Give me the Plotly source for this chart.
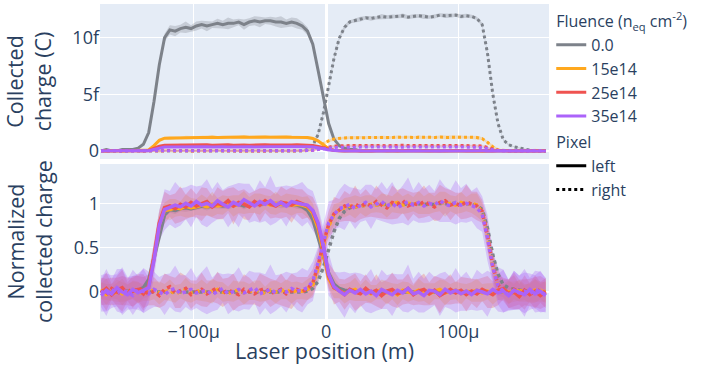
import plotly.graph_objects as go
from plotly.subplots import make_subplots

# Laser position grid (micrometres)
x_um = list(range(-170, 167, 4))

# ---- Normalized collected charge ----
gray_left = [0.00, 0.01, 0.00, 0.00, 0.01, 0.01, 0.01, 0.02, 0.05, 0.14,
             0.38, 0.66, 0.87, 0.93, 0.92, 0.94, 0.95, 0.94, 0.96, 0.97,
             0.96, 0.97, 0.98, 0.97, 0.98, 0.98, 0.99, 0.97, 0.99, 1.00,
             0.99, 1.00, 1.00, 0.99, 0.99, 0.98, 0.99, 0.98, 0.96, 0.92,
             0.82, 0.62, 0.40, 0.21, 0.09, 0.04, 0.02, 0.01, 0.01, 0.00,
             0.00, 0.00, 0.00, 0.00, 0.00, 0.00, 0.00, 0.00, 0.00, 0.00,
             0.00, 0.00, 0.00, 0.00, 0.00, 0.00, 0.00, 0.00, 0.00, 0.00,
             0.00, 0.00, 0.00, 0.00, 0.00, 0.00, 0.00, 0.00, 0.00, 0.00,
             0.00, 0.00, 0.00, 0.00, 0.00]
gray_right = [0.00, 0.00, 0.00, 0.00, 0.00, 0.00, 0.00, 0.00, 0.00, 0.00,
              0.00, 0.00, 0.00, 0.00, 0.00, 0.00, 0.00, 0.00, 0.00, 0.00,
              0.00, 0.00, 0.00, 0.00, 0.00, 0.00, 0.00, 0.00, 0.00, 0.00,
              0.00, 0.00, 0.00, 0.00, 0.00, 0.00, 0.00, 0.00, 0.00, 0.01,
              0.04, 0.12, 0.28, 0.48, 0.68, 0.83, 0.91, 0.95, 0.96, 0.97,
              0.98, 0.975, 0.98, 0.99, 0.985, 0.99, 0.99, 0.995, 0.985, 0.99,
              0.995, 0.99, 0.985, 0.99, 1.00, 0.995, 0.995, 1.00, 0.99, 0.995,
              0.99, 0.975, 0.93, 0.72, 0.42, 0.20, 0.08, 0.045, 0.03, 0.02,
              0.01, 0.005, 0.00, 0.00, 0.00]
orange_left = [0.02, -0.03, 0.01, 0.03, -0.02, 0.00, 0.02, -0.01, 0.01, 0.06,
               0.38, 0.76, 0.92, 0.93, 0.95, 0.94, 0.97, 0.95, 0.96, 0.98,
               0.96, 0.99, 0.97, 0.98, 1.00, 0.97, 0.99, 1.01, 0.98, 1.00,
               0.99, 1.01, 0.98, 1.00, 0.99, 1.00, 0.98, 0.99, 0.98, 0.96,
               0.89, 0.72, 0.45, 0.15, 0.05, 0.01, -0.02, 0.01, 0.03, -0.01,
               0.02, -0.02, 0.00, 0.03, -0.01, 0.01, -0.03, 0.02, 0.00, -0.01,
               0.02, 0.00, -0.02, 0.01, 0.03, -0.01, 0.00, 0.02, -0.02, 0.01,
               0.00, 0.02, -0.01, 0.01, -0.02, 0.02, 0.00, -0.01, 0.02, 0.01,
               -0.02, 0.00, 0.02, -0.01, 0.01]
orange_right = [0.01, 0.03, -0.02, 0.00, 0.02, -0.01, 0.03, 0.00, -0.02, 0.01,
                0.02, -0.01, 0.00, 0.02, -0.02, 0.01, 0.03, -0.01, 0.00, 0.02,
                -0.01, 0.01, 0.03, 0.00, -0.02, 0.01, 0.02, -0.01, 0.00, 0.02,
                0.01, -0.02, 0.02, 0.00, 0.01, 0.03, -0.01, 0.02, 0.01, 0.03,
                0.08, 0.27, 0.52, 0.74, 0.87, 0.93, 0.95, 0.97, 0.96, 0.98,
                0.97, 0.99, 0.98, 1.00, 0.97, 0.99, 1.01, 0.98, 1.00, 0.99,
                1.01, 0.98, 1.00, 0.99, 1.02, 0.99, 1.00, 0.98, 1.01, 0.99,
                1.00, 0.98, 0.90, 0.63, 0.29, 0.07, 0.02, 0.00, -0.01, 0.02,
                0.00, -0.02, 0.01, 0.02, -0.01]
red_left = [-0.01, 0.04, -0.03, 0.02, 0.05, -0.02, 0.01, 0.03, -0.02, 0.07,
            0.40, 0.78, 0.95, 0.97, 0.94, 0.99, 0.96, 1.01, 0.97, 0.99,
            1.02, 0.96, 1.00, 0.98, 1.03, 0.97, 1.01, 0.99, 0.96, 1.02,
            0.98, 1.03, 0.99, 0.97, 1.01, 1.00, 0.98, 1.02, 0.99, 0.97,
            0.91, 0.76, 0.50, 0.18, 0.05, 0.02, -0.03, 0.03, 0.00, -0.02,
            0.04, -0.01, 0.02, -0.04, 0.01, 0.03, -0.02, 0.00, 0.04, -0.03,
            0.01, 0.03, -0.02, 0.02, -0.04, 0.00, 0.03, -0.01, 0.02, -0.03,
            0.01, -0.02, 0.03, 0.00, -0.03, 0.02, 0.04, -0.02, 0.00, -0.05,
            0.02, -0.03, 0.01, -0.04, 0.00]
red_right = [0.02, -0.03, 0.04, 0.00, -0.02, 0.03, -0.01, 0.05, 0.01, -0.02,
             0.01, -0.04, 0.03, 0.06, -0.01, 0.02, 0.04, -0.03, 0.00, 0.03,
             -0.02, 0.01, 0.05, -0.01, 0.02, 0.00, -0.03, 0.03, 0.01, -0.02,
             0.02, 0.04, -0.01, 0.00, 0.03, -0.02, 0.01, 0.03, 0.00, 0.04,
             0.10, 0.30, 0.55, 0.76, 0.88, 0.92, 0.97, 0.95, 0.99, 0.96,
             1.00, 0.97, 1.02, 0.98, 0.95, 1.01, 0.99, 1.03, 0.97, 1.00,
             0.98, 1.02, 0.99, 0.96, 1.01, 1.03, 0.98, 1.00, 0.97, 1.02,
             0.99, 0.97, 0.91, 0.64, 0.30, 0.08, 0.02, -0.02, 0.03, 0.00,
             -0.03, 0.02, -0.01, 0.03, -0.02]
purple_left = [-0.04, 0.02, -0.02, 0.05, 0.00, -0.03, 0.03, -0.01, 0.02, 0.05,
               0.36, 0.75, 0.93, 0.95, 0.98, 0.96, 1.00, 0.97, 1.02, 0.98,
               1.00, 0.97, 1.03, 0.99, 0.96, 1.01, 0.98, 1.04, 1.00, 0.97,
               1.02, 0.99, 1.03, 0.98, 1.01, 0.97, 1.02, 1.00, 0.99, 0.98,
               0.92, 0.78, 0.52, 0.20, 0.06, 0.01, -0.03, 0.02, -0.01, 0.03,
               -0.02, 0.01, -0.04, 0.03, 0.00, -0.03, 0.02, -0.01, 0.04, -0.02,
               0.00, -0.04, 0.02, 0.01, -0.03, 0.03, -0.01, 0.02, -0.02, 0.01,
               -0.03, 0.02, 0.00, -0.02, 0.03, -0.01, 0.01, -0.04, 0.02, 0.00,
               -0.03, 0.03, -0.02, 0.01, -0.04]
purple_right = [0.01, -0.03, 0.03, -0.01, 0.02, 0.00, -0.04, 0.02, 0.01, -0.02,
                0.03, 0.00, -0.03, 0.02, 0.04, -0.02, 0.01, 0.03, -0.01, 0.00,
                0.02, -0.03, 0.01, 0.04, -0.02, 0.00, 0.03, -0.01, 0.02, 0.05,
                -0.02, 0.01, 0.03, -0.01, 0.02, 0.00, 0.04, 0.01, 0.02, 0.05,
                0.12, 0.33, 0.57, 0.78, 0.87, 0.94, 0.96, 0.99, 0.94, 0.97,
                1.01, 0.96, 0.99, 1.02, 0.97, 1.00, 0.95, 0.99, 1.02, 0.98,
                1.01, 0.97, 1.00, 0.98, 1.03, 0.99, 0.97, 1.01, 0.98, 1.00,
                0.97, 0.95, 0.88, 0.61, 0.28, 0.07, 0.01, -0.03, 0.02, -0.01,
                0.01, -0.02, 0.03, 0.00, -0.03]

# ---- Uncertainty (half width) of the normalized charge ----
gray_left_err = [0.005, 0.005, 0.005, 0.005, 0.005, 0.005, 0.005, 0.005, 0.005, 0.01,
                 0.02, 0.03, 0.03, 0.035, 0.04, 0.03, 0.045, 0.025, 0.035, 0.03,
                 0.04, 0.025, 0.035, 0.03, 0.045, 0.03, 0.025, 0.04, 0.03, 0.035,
                 0.04, 0.025, 0.03, 0.035, 0.045, 0.03, 0.035, 0.04, 0.03, 0.03,
                 0.025, 0.02, 0.015, 0.01, 0.01, 0.005, 0.005, 0.005, 0.005, 0.005,
                 0.005, 0.005, 0.005, 0.005, 0.005, 0.005, 0.005, 0.005, 0.005, 0.005,
                 0.005, 0.005, 0.005, 0.005, 0.005, 0.005, 0.005, 0.005, 0.005, 0.005,
                 0.005, 0.005, 0.005, 0.005, 0.005, 0.005, 0.005, 0.005, 0.005, 0.005,
                 0.005, 0.005, 0.005, 0.005, 0.005]
gray_right_err = [0.004, 0.004, 0.004, 0.004, 0.004, 0.004, 0.004, 0.004, 0.004, 0.004,
                  0.004, 0.004, 0.004, 0.004, 0.004, 0.004, 0.004, 0.004, 0.004, 0.004,
                  0.004, 0.004, 0.004, 0.004, 0.004, 0.004, 0.004, 0.004, 0.004, 0.004,
                  0.004, 0.004, 0.004, 0.004, 0.004, 0.004, 0.004, 0.004, 0.004, 0.006,
                  0.01, 0.012, 0.015, 0.014, 0.016, 0.013, 0.018, 0.012, 0.015, 0.017,
                  0.013, 0.016, 0.012, 0.018, 0.014, 0.015, 0.012, 0.017, 0.013, 0.016,
                  0.014, 0.018, 0.012, 0.015, 0.013, 0.017, 0.014, 0.012, 0.016, 0.015,
                  0.013, 0.012, 0.014, 0.012, 0.01, 0.008, 0.006, 0.005, 0.004, 0.004,
                  0.004, 0.004, 0.004, 0.004, 0.004]
orange_err = [0.09, 0.12, 0.08, 0.11, 0.13, 0.09, 0.10, 0.12, 0.08, 0.11,
              0.10, 0.13, 0.09, 0.12, 0.10, 0.08, 0.13, 0.11, 0.09, 0.12,
              0.10, 0.14, 0.09, 0.11, 0.08, 0.12, 0.10, 0.13, 0.09, 0.11,
              0.12, 0.08, 0.10, 0.13, 0.09, 0.11, 0.12, 0.10, 0.09, 0.12,
              0.11, 0.09, 0.13, 0.10, 0.12, 0.08, 0.11, 0.10, 0.13, 0.09,
              0.12, 0.10, 0.08, 0.11, 0.13, 0.09, 0.12, 0.10, 0.11, 0.08,
              0.13, 0.10, 0.12, 0.09, 0.11, 0.14, 0.09, 0.10, 0.12, 0.08,
              0.11, 0.13, 0.10, 0.09, 0.12, 0.11, 0.08, 0.13, 0.10, 0.12,
              0.09, 0.11, 0.13, 0.10, 0.12]
red_err = [0.14, 0.18, 0.12, 0.16, 0.20, 0.13, 0.17, 0.15, 0.19, 0.13,
           0.16, 0.14, 0.18, 0.12, 0.17, 0.20, 0.14, 0.16, 0.13, 0.19,
           0.15, 0.12, 0.18, 0.16, 0.14, 0.21, 0.13, 0.17, 0.15, 0.12,
           0.19, 0.14, 0.16, 0.13, 0.18, 0.15, 0.20, 0.14, 0.17, 0.13,
           0.16, 0.18, 0.14, 0.15, 0.19, 0.13, 0.17, 0.15, 0.21, 0.14,
           0.16, 0.12, 0.18, 0.15, 0.13, 0.19, 0.16, 0.14, 0.17, 0.12,
           0.15, 0.18, 0.13, 0.16, 0.20, 0.14, 0.17, 0.12, 0.15, 0.19,
           0.14, 0.16, 0.13, 0.18, 0.15, 0.17, 0.12, 0.16, 0.19, 0.14,
           0.17, 0.13, 0.18, 0.15, 0.16]
purple_err = [0.18, 0.24, 0.16, 0.21, 0.26, 0.17, 0.22, 0.19, 0.25, 0.18,
              0.20, 0.17, 0.23, 0.19, 0.26, 0.21, 0.18, 0.24, 0.17, 0.22,
              0.27, 0.19, 0.21, 0.16, 0.23, 0.20, 0.25, 0.18, 0.22, 0.17,
              0.24, 0.19, 0.28, 0.20, 0.18, 0.23, 0.17, 0.21, 0.25, 0.19,
              0.22, 0.18, 0.20, 0.24, 0.17, 0.21, 0.26, 0.19, 0.23, 0.18,
              0.20, 0.25, 0.17, 0.22, 0.19, 0.24, 0.18, 0.21, 0.27, 0.17,
              0.23, 0.19, 0.21, 0.16, 0.24, 0.20, 0.18, 0.25, 0.19, 0.22,
              0.17, 0.23, 0.20, 0.26, 0.18, 0.21, 0.24, 0.17, 0.22, 0.19,
              0.25, 0.18, 0.21, 0.23, 0.19]

# Plateau collected charge (C) of each fluence / pixel
fluences = ["0.0", "15e14", "25e14", "35e14"]
amp_left = [11.5e-15, 1.22e-15, 0.52e-15, 0.36e-15]
amp_right = [12.0e-15, 1.20e-15, 0.48e-15, 0.34e-15]

norm_left = [gray_left, orange_left, red_left, purple_left]
norm_right = [gray_right, orange_right, red_right, purple_right]
err_left = [gray_left_err, orange_err, red_err, purple_err]
err_right = [gray_right_err, orange_err, red_err, purple_err]

colors = ["rgb(125,130,138)", "#ffa81e", "#ef5350", "#ab63fa"]
band_colors = ["rgba(125,130,138,0.3)", "rgba(255,168,30,0.28)",
               "rgba(239,83,80,0.28)", "rgba(171,99,250,0.3)"]

x = [v * 1e-6 for v in x_um]

fig = make_subplots(rows=2, cols=1, shared_xaxes=True, vertical_spacing=0.016)


def band(xv, y, e, scale, color, row):
    up = [(a + b) * scale for a, b in zip(y, e)]
    lo = [(a - b) * scale for a, b in zip(y, e)]
    fig.add_trace(go.Scatter(x=xv + xv[::-1], y=up + lo[::-1], fill="toself",
                             fillcolor=color, line=dict(width=0), mode="lines",
                             hoverinfo="skip", showlegend=False), row=row, col=1)


# Bands first
for k in range(4):
    for norm, err, amp in ((norm_left[k], err_left[k], amp_left[k]),
                           (norm_right[k], err_right[k], amp_right[k])):
        band(x, norm, err, amp, band_colors[k], 1)
        band(x, norm, err, 1.0, band_colors[k], 2)

# Lines
for k in range(4):
    for norm, amp, dash in ((norm_left[k], amp_left[k], "solid"),
                            (norm_right[k], amp_right[k], "dot")):
        fig.add_trace(go.Scatter(x=x, y=[v * amp for v in norm], mode="lines",
                                 line=dict(color=colors[k], width=3, dash=dash),
                                 showlegend=False), row=1, col=1)
        fig.add_trace(go.Scatter(x=x, y=norm, mode="lines",
                                 line=dict(color=colors[k], width=3.5, dash=dash),
                                 showlegend=False), row=2, col=1)

# Legend entries
for k in range(4):
    kw = {}
    if k == 0:
        kw["legendgrouptitle_text"] = "Fluence (n<sub>eq</sub> cm<sup>-2</sup>)"
    fig.add_trace(go.Scatter(x=[None], y=[None], mode="lines", name=fluences[k],
                             line=dict(color=colors[k], width=3),
                             legendgroup="fluence", **kw), row=1, col=1)
for name, dash in (("left", "solid"), ("right", "dot")):
    kw = {}
    if name == "left":
        kw["legendgrouptitle_text"] = "Pixel"
    fig.add_trace(go.Scatter(x=[None], y=[None], mode="lines", name=name,
                             line=dict(color="black", width=3, dash=dash),
                             legendgroup="pixel", **kw), row=1, col=1)

fig.update_layout(
    width=713, height=365,
    template="plotly",
    font=dict(size=18),
    margin=dict(l=100, r=164, t=4, b=46),
    legend=dict(tracegroupgap=2, x=1.005, y=1, yanchor="top", font=dict(size=16),
                grouptitlefont=dict(size=16)),
)
fig.update_xaxes(range=[-170.8e-6, 168.5e-6], dtick=100e-6, exponentformat="SI",
                 zeroline=True, zerolinecolor="white", zerolinewidth=3,
                 automargin=False)
fig.update_xaxes(title_text="Laser position (m)", title_standoff=2, row=2, col=1)
fig.update_yaxes(range=[-0.72e-15, 12.98e-15], dtick=5e-15, exponentformat="SI",
                 title_text="Collected<br>charge (C)", row=1, col=1)
fig.update_yaxes(range=[-0.304, 1.443], dtick=0.5,
                 title_text="Normalized<br>collected charge", row=2, col=1)
fig.update_yaxes(title_font=dict(size=21.5), automargin=False)
fig.update_xaxes(title_font=dict(size=21.5))

fig.write_html("out.html", config={"displayModeBar": False},
               post_script="document.body.style.margin='0px';")
